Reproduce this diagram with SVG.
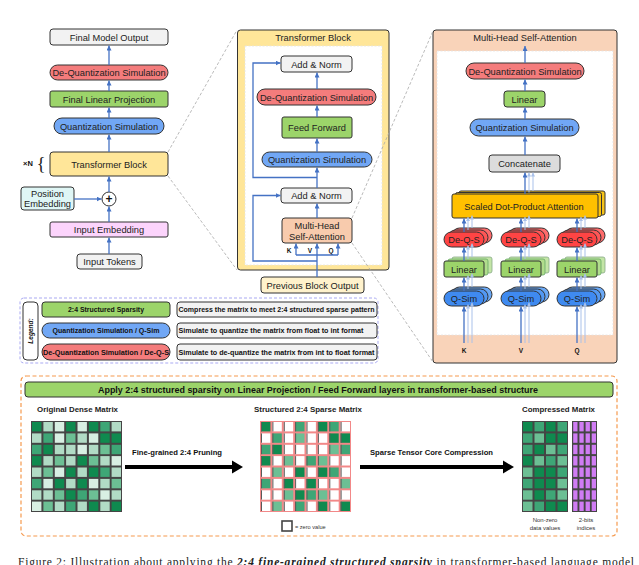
<svg xmlns="http://www.w3.org/2000/svg" width="639" height="565" viewBox="0 0 639 565">
<style>
.t{font-family:"Liberation Sans",Arial,sans-serif;font-size:9.3px;fill:#222;text-anchor:middle}
.b{font-family:"Liberation Sans",Arial,sans-serif;font-weight:bold;fill:#111;text-anchor:middle}
.box{stroke:#333;stroke-width:1}
.gray{fill:#f2f2f2}.red{fill:#f47c7c}.grn{fill:#9cd46a}.blu{fill:#71a7f5}.yel{fill:#ffe699}
.ar{stroke:#4472c4;stroke-width:1.3;fill:none;marker-end:url(#ah)}
.fa{stroke:#a9c1ea;stroke-width:1;fill:none;marker-end:url(#ahf)}
.dl{stroke:#a8a8a8;stroke-width:0.8;stroke-dasharray:3 2;fill:none}
.D{fill:#0f8a4f}.M{fill:#3ea676}.L{fill:#6cbf94}.P{fill:#b1dbc5}.W{fill:#d8efe3}.Z{fill:#fff}
</style>
<defs>
<marker id="ah" viewBox="0 0 6 6" refX="6" refY="3" markerWidth="5" markerHeight="5" orient="auto" markerUnits="userSpaceOnUse"><path d="M0,0 L6,3 L0,6 z" fill="#4472c4"/></marker>
<marker id="ahf" viewBox="0 0 6 6" refX="6" refY="3" markerWidth="4" markerHeight="4" orient="auto" markerUnits="userSpaceOnUse"><path d="M0,0 L6,3 L0,6 z" fill="#a9c1ea"/></marker>
</defs>
<rect width="639" height="565" fill="#fff"/>

<!-- zoom guide lines -->
<g id="guides">
<line class="dl" x1="168" y1="152" x2="237" y2="30"/>
<line class="dl" x1="168" y1="176" x2="237" y2="270"/>
</g>

<!-- left column -->
<g id="n-final-output"><rect class="box gray" x="50" y="29" width="118" height="16" rx="3"/><text class="t" x="109" y="40.5">Final Model Output</text></g>
<g id="n-deq-left"><rect class="box red" x="50" y="65" width="118" height="15" rx="7.5"/><text class="t" x="109" y="76">De-Quantization Simulation</text></g>
<g id="n-final-linear"><rect class="box grn" x="50" y="91" width="118" height="16" rx="2"/><text class="t" x="109" y="102.5">Final Linear Projection</text></g>
<g id="n-qsim-left"><rect class="box blu" x="54" y="118" width="110" height="16" rx="8"/><text class="t" x="109" y="129.5">Quantization Simulation</text></g>
<g id="n-transformer-block"><rect class="box yel" x="50" y="152" width="118" height="24" rx="3"/><text class="t" x="109" y="167.5">Transformer Block</text>
<text class="b" x="28" y="166" style="font-size:7.5px">×N</text><text x="41" y="170" style="font-family:'Liberation Serif',serif;font-size:19px;fill:#222;text-anchor:middle">{</text></g>
<g id="n-position"><rect class="box" x="21" y="187" width="53" height="23" rx="3" fill="#dff6f5"/><text class="t" x="47.5" y="196.5">Position</text><text class="t" x="47.5" y="207">Embedding</text></g>
<g id="n-plus"><circle cx="109" cy="199" r="7" fill="#fff" stroke="#333" stroke-width="1"/><text x="109" y="203.3" style="font-family:'Liberation Sans',sans-serif;font-size:12px;font-weight:bold;fill:#111;text-anchor:middle">+</text></g>
<g id="n-input-emb"><rect class="box" x="50" y="222" width="118" height="15" rx="2" fill="#fcd4fc"/><text class="t" x="109" y="233">Input Embedding</text></g>
<g id="n-input-tokens"><rect class="box gray" x="77" y="254" width="65" height="15" rx="3"/><text class="t" x="109.5" y="265">Input Tokens</text></g>

<g id="connectors-left">
<line class="ar" x1="109" y1="254" x2="109" y2="237.5"/>
<line class="ar" x1="109" y1="222" x2="109" y2="206.5"/>
<line class="ar" x1="74" y1="199" x2="101.5" y2="199"/>
<line class="ar" x1="109" y1="192" x2="109" y2="176.5"/>
<line class="ar" x1="109" y1="152" x2="109" y2="134.5"/>
<line class="ar" x1="109" y1="118" x2="109" y2="107.5"/>
<line class="ar" x1="109" y1="91" x2="109" y2="80.5"/>
<line class="ar" x1="109" y1="65" x2="109" y2="45.5"/>
</g>

<!-- transformer block -->
<g id="n-transformer-detail">
<rect class="box yel" x="237.5" y="30" width="151.5" height="240" rx="3"/>
<text class="t" x="313" y="41">Transformer Block</text>
<rect x="245" y="46" width="137" height="219" fill="#fff" stroke="#e3e3e3" stroke-width="0.8" stroke-dasharray="2 1.5"/>
</g>
<g id="n-addnorm-top"><rect class="box gray" x="281" y="56" width="71" height="16" rx="3"/><text class="t" x="316.5" y="67.5">Add &amp; Norm</text></g>
<g id="n-deq-tb"><rect class="box red" x="257" y="89" width="119" height="16" rx="8"/><text class="t" x="316.5" y="100.5">De-Quantization Simulation</text></g>
<g id="n-ff"><rect class="box grn" x="282" y="117" width="70" height="21" rx="2"/><text class="t" x="317" y="130.8">Feed Forward</text></g>
<g id="n-qsim-tb"><rect class="box blu" x="262" y="152" width="110" height="15" rx="7.5"/><text class="t" x="317" y="163">Quantization Simulation</text></g>
<g id="n-addnorm-2"><rect class="box gray" x="281" y="188" width="71" height="15" rx="3"/><text class="t" x="316.5" y="199">Add &amp; Norm</text></g>
<g id="n-mhsa"><rect class="box" x="282" y="218" width="70" height="25" rx="3" fill="#f8cbad"/><text class="t" x="317" y="228.5">Multi-Head</text><text class="t" x="317" y="239.5">Self-Attention</text></g>
<g id="n-prev"><rect class="box" x="261" y="277" width="103" height="16" rx="3" fill="#fff2cc"/><text class="t" x="312.5" y="288.5">Previous Block Output</text></g>
<g id="kvq-tb"><text class="b" x="289" y="252.5" style="font-size:6.5px">K</text><text class="b" x="310" y="252.5" style="font-size:6.5px">V</text><text class="b" x="331" y="252.5" style="font-size:6.5px">Q</text></g>

<g id="connectors-tb">
<line class="ar" x1="317" y1="277" x2="317" y2="243.5"/>
<path d="M296,255 H338" stroke="#4472c4" stroke-width="1.3" fill="none"/>
<line class="ar" x1="296" y1="255" x2="296" y2="243.5"/>
<line class="ar" x1="338" y1="255" x2="338" y2="243.5"/>
<path class="ar" d="M317,261 H253 V195.5 H280.5"/>
<line class="ar" x1="317" y1="218" x2="317" y2="203.5"/>
<line class="ar" x1="317" y1="188" x2="317" y2="167.5"/>
<path class="ar" d="M317,177.5 H253 V63 H280.5"/>
<line class="ar" x1="317" y1="152" x2="317" y2="138.5"/>
<line class="ar" x1="317" y1="117" x2="317" y2="105.5"/>
<line class="ar" x1="317" y1="89" x2="317" y2="72.5"/>
</g>

<!-- MHA detail -->
<g id="n-mha-detail">
<rect class="box" x="433" y="30" width="184" height="333" rx="3" fill="#f9d3b9"/>
<text class="t" x="525" y="41">Multi-Head Self-Attention</text>
<rect x="437" y="51" width="176" height="284" fill="#fff" stroke="#e3e3e3" stroke-width="0.8" stroke-dasharray="2 1.5"/>
</g>
<g id="n-deq-mha"><rect class="box red" x="466" y="63" width="118" height="16" rx="8"/><text class="t" x="525" y="74.5">De-Quantization Simulation</text></g>
<g id="n-linear-mha"><rect class="box grn" x="504" y="91" width="41" height="16" rx="3"/><text class="t" x="524.5" y="102.5">Linear</text></g>
<g id="n-qsim-mha"><rect class="box blu" x="470" y="119" width="109" height="17" rx="8.5"/><text class="t" x="524.5" y="131">Quantization Simulation</text></g>
<g id="n-concat"><rect class="box" x="489" y="155" width="71" height="17" rx="3" fill="#dcdcdc"/><text class="t" x="524.5" y="167">Concatenate</text></g>
<g id="n-sdpa">
<rect class="box" x="459" y="191" width="146" height="24" rx="2" fill="#f5c31a"/>
<rect class="box" x="455.5" y="192.5" width="146" height="24" rx="2" fill="#fcc20c"/>
<rect class="box" x="452" y="194" width="146" height="24" rx="2" fill="#ffc000"/>
<text class="t" x="524" y="209.5">Scaled Dot-Product Attention</text>
</g>

<g id="n-heads">
<g id="n-deqs-k"><rect class="box" x="452" y="228" width="40" height="15" rx="7.5" fill="#ff6b6b"/><rect class="box" x="448" y="230" width="40" height="15" rx="7.5" fill="#ff5656"/><rect class="box" x="444" y="232" width="40" height="15" rx="7.5" fill="#ff4444"/><text class="t" x="464" y="243">De-Q-S</text></g>
<g id="n-deqs-v"><rect class="box" x="509" y="228" width="40" height="15" rx="7.5" fill="#ff6b6b"/><rect class="box" x="505" y="230" width="40" height="15" rx="7.5" fill="#ff5656"/><rect class="box" x="501" y="232" width="40" height="15" rx="7.5" fill="#ff4444"/><text class="t" x="521" y="243">De-Q-S</text></g>
<g id="n-deqs-q"><rect class="box" x="565" y="228" width="40" height="15" rx="7.5" fill="#ff6b6b"/><rect class="box" x="561" y="230" width="40" height="15" rx="7.5" fill="#ff5656"/><rect class="box" x="557" y="232" width="40" height="15" rx="7.5" fill="#ff4444"/><text class="t" x="577" y="243">De-Q-S</text></g>
<g id="n-lin-k"><rect x="452" y="257" width="40" height="16" rx="2" fill="#c3e5a6" stroke="#8a8" stroke-width="0.8"/><rect x="448" y="259" width="40" height="16" rx="2" fill="#b1dd8c" stroke="#6a6" stroke-width="0.8"/><rect class="box grn" x="444" y="261" width="40" height="16" rx="2"/><text class="t" x="464" y="272.5">Linear</text></g>
<g id="n-lin-v"><rect x="509" y="257" width="40" height="16" rx="2" fill="#c3e5a6" stroke="#8a8" stroke-width="0.8"/><rect x="505" y="259" width="40" height="16" rx="2" fill="#b1dd8c" stroke="#6a6" stroke-width="0.8"/><rect class="box grn" x="501" y="261" width="40" height="16" rx="2"/><text class="t" x="521" y="272.5">Linear</text></g>
<g id="n-lin-q"><rect x="565" y="257" width="40" height="16" rx="2" fill="#c3e5a6" stroke="#8a8" stroke-width="0.8"/><rect x="561" y="259" width="40" height="16" rx="2" fill="#b1dd8c" stroke="#6a6" stroke-width="0.8"/><rect class="box grn" x="557" y="261" width="40" height="16" rx="2"/><text class="t" x="577" y="272.5">Linear</text></g>
<g id="n-qs-k"><rect class="box" x="452" y="287" width="40" height="15" rx="7.5" fill="#6aa8f5"/><rect class="box" x="448" y="289" width="40" height="15" rx="7.5" fill="#5298f2"/><rect class="box" x="444" y="291" width="40" height="15" rx="7.5" fill="#3f8af0"/><text class="t" x="464" y="302">Q-Sim</text></g>
<g id="n-qs-v"><rect class="box" x="509" y="287" width="40" height="15" rx="7.5" fill="#6aa8f5"/><rect class="box" x="505" y="289" width="40" height="15" rx="7.5" fill="#5298f2"/><rect class="box" x="501" y="291" width="40" height="15" rx="7.5" fill="#3f8af0"/><text class="t" x="521" y="302">Q-Sim</text></g>
<g id="n-qs-q"><rect class="box" x="565" y="287" width="40" height="15" rx="7.5" fill="#6aa8f5"/><rect class="box" x="561" y="289" width="40" height="15" rx="7.5" fill="#5298f2"/><rect class="box" x="557" y="291" width="40" height="15" rx="7.5" fill="#3f8af0"/><text class="t" x="577" y="302">Q-Sim</text></g>
<g id="kvq-mha"><text class="b" x="464" y="352.5" style="font-size:6.5px">K</text><text class="b" x="521" y="352.5" style="font-size:6.5px">V</text><text class="b" x="577" y="352.5" style="font-size:6.5px">Q</text></g>
</g>

<g id="connectors-mha">
<line class="ar" x1="525" y1="63" x2="525" y2="46"/>
<line class="ar" x1="525" y1="91" x2="525" y2="79.5"/>
<line class="ar" x1="525" y1="119" x2="525" y2="107.5"/>
<line class="ar" x1="525" y1="155" x2="525" y2="136.5"/>
<line class="fa" x1="533" y1="191" x2="533" y2="172.5"/>
<line class="fa" x1="529" y1="192.5" x2="529" y2="172.5"/>
<line class="ar" x1="525" y1="194" x2="525" y2="172.5"/>
<g id="col-k">
<line class="fa" x1="472" y1="343" x2="472" y2="302.5"/><line class="fa" x1="468" y1="343" x2="468" y2="304.5"/><line class="ar" x1="464" y1="343" x2="464" y2="306.5"/>
<line class="fa" x1="472" y1="287" x2="472" y2="273.5"/><line class="fa" x1="468" y1="289" x2="468" y2="275.5"/><line class="ar" x1="464" y1="291" x2="464" y2="277.5"/>
<line class="fa" x1="472" y1="257" x2="472" y2="243.5"/><line class="fa" x1="468" y1="259" x2="468" y2="245.5"/><line class="ar" x1="464" y1="261" x2="464" y2="247.5"/>
<line class="fa" x1="472" y1="228" x2="472" y2="215.5"/><line class="fa" x1="468" y1="230" x2="468" y2="217"/><line class="ar" x1="464" y1="232" x2="464" y2="218.5"/>
</g>
<g id="col-v">
<line class="fa" x1="529" y1="343" x2="529" y2="302.5"/><line class="fa" x1="525" y1="343" x2="525" y2="304.5"/><line class="ar" x1="521" y1="343" x2="521" y2="306.5"/>
<line class="fa" x1="529" y1="287" x2="529" y2="273.5"/><line class="fa" x1="525" y1="289" x2="525" y2="275.5"/><line class="ar" x1="521" y1="291" x2="521" y2="277.5"/>
<line class="fa" x1="529" y1="257" x2="529" y2="243.5"/><line class="fa" x1="525" y1="259" x2="525" y2="245.5"/><line class="ar" x1="521" y1="261" x2="521" y2="247.5"/>
<line class="fa" x1="529" y1="228" x2="529" y2="215.5"/><line class="fa" x1="525" y1="230" x2="525" y2="217"/><line class="ar" x1="521" y1="232" x2="521" y2="218.5"/>
</g>
<g id="col-q">
<line class="fa" x1="585" y1="343" x2="585" y2="302.5"/><line class="fa" x1="581" y1="343" x2="581" y2="304.5"/><line class="ar" x1="577" y1="343" x2="577" y2="306.5"/>
<line class="fa" x1="585" y1="287" x2="585" y2="273.5"/><line class="fa" x1="581" y1="289" x2="581" y2="275.5"/><line class="ar" x1="577" y1="291" x2="577" y2="277.5"/>
<line class="fa" x1="585" y1="257" x2="585" y2="243.5"/><line class="fa" x1="581" y1="259" x2="581" y2="245.5"/><line class="ar" x1="577" y1="261" x2="577" y2="247.5"/>
<line class="fa" x1="585" y1="228" x2="585" y2="215.5"/><line class="fa" x1="581" y1="230" x2="581" y2="217"/><line class="ar" x1="577" y1="232" x2="577" y2="218.5"/>
</g>
</g>

<g id="guides-right">
<line class="dl" x1="352" y1="218" x2="433" y2="31"/>
<line class="dl" x1="352" y1="243" x2="433" y2="362"/>
</g>

<!-- legend -->
<g id="legend">
<rect x="20" y="298" width="358" height="65" rx="4" fill="#fff" stroke="#a9a9f2" stroke-width="1" stroke-dasharray="3 2"/>
<rect x="23" y="302" width="15" height="58" rx="4" fill="#fff" stroke="#333" stroke-width="1"/>
<text class="b" x="31" y="333.3" transform="rotate(-90 31 331)" style="font-size:6.5px;font-style:italic">Legend:</text>
<g id="lg-sparsity"><rect class="box grn" x="42" y="302" width="128" height="15" rx="3"/><text class="b" x="106" y="312.3" style="font-size:6.6px" textLength="76" lengthAdjust="spacingAndGlyphs">2:4 Structured Sparsity</text>
<rect class="box gray" x="177" y="302" width="200" height="15" rx="3"/><text class="b" x="178.5" y="312.3" style="font-size:6.6px;text-anchor:start" textLength="196" lengthAdjust="spacingAndGlyphs">Compress the matrix to meet 2:4 structured sparse pattern</text></g>
<g id="lg-qsim"><rect class="box blu" x="42" y="323" width="128" height="15" rx="7.5"/><text class="b" x="106" y="333.3" style="font-size:6.6px" textLength="107" lengthAdjust="spacingAndGlyphs">Quantization Simulation / Q-Sim</text>
<rect class="box gray" x="177" y="323" width="200" height="15" rx="3"/><text class="b" x="178.5" y="333.3" style="font-size:6.6px;text-anchor:start" textLength="185" lengthAdjust="spacingAndGlyphs">Simulate to quantize the matrix from float to int format</text></g>
<g id="lg-deqs"><rect class="box red" x="42" y="344" width="128" height="16" rx="8"/><text class="b" x="106" y="354.8" style="font-size:6.6px" textLength="126" lengthAdjust="spacingAndGlyphs">De-Quantization Simulation / De-Q-S</text>
<rect class="box gray" x="177" y="344" width="200" height="16" rx="3"/><text class="b" x="178.5" y="354.8" style="font-size:6.6px;text-anchor:start" textLength="196" lengthAdjust="spacingAndGlyphs">Simulate to de-quantize the matrix from int to float format</text></g>
</g>

<!-- bottom panel -->
<g id="sparsity-panel">
<rect x="21" y="376" width="596" height="160" rx="5" fill="#fff" stroke="#f59a4f" stroke-width="1.2" stroke-dasharray="4 2.5"/>
<rect class="box grn" x="25" y="382" width="588" height="15" rx="3"/>
<text class="b" x="318" y="392.8" style="font-size:8.4px" textLength="440" lengthAdjust="spacingAndGlyphs">Apply 2:4 structured sparsity on Linear Projection / Feed Forward layers in transformer-based structure</text>
<text class="b" x="77.5" y="412" style="font-size:7.6px;fill:#222" textLength="81" lengthAdjust="spacingAndGlyphs">Original Dense Matrix</text>
<text class="b" x="308" y="412" style="font-size:7.6px;fill:#222" textLength="108" lengthAdjust="spacingAndGlyphs">Structured 2:4 Sparse Matrix</text>
<text class="b" x="558.5" y="412" style="font-size:7.6px;fill:#222" textLength="73" lengthAdjust="spacingAndGlyphs">Compressed Matrix</text>
<text class="b" x="177" y="455" style="font-size:7.6px;fill:#111" textLength="90" lengthAdjust="spacingAndGlyphs">Fine-grained 2:4 Pruning</text>
<text class="b" x="431.5" y="455" style="font-size:7.6px;fill:#111" textLength="123" lengthAdjust="spacingAndGlyphs">Sparse Tensor Core Compression</text>
<line x1="125" y1="467" x2="233" y2="467" stroke="#000" stroke-width="4"/>
<polygon points="232,460.5 243,467 232,473.5" fill="#000"/>
<line x1="360" y1="467" x2="504" y2="467" stroke="#000" stroke-width="4"/>
<polygon points="503,460.5 514,467 503,473.5" fill="#000"/>
<rect x="282" y="521" width="10" height="10" fill="#fff" stroke="#444" stroke-width="1.6"/>
<text x="295" y="529" style="font-family:'Liberation Sans',sans-serif;font-size:5.6px;fill:#333">= zero value</text>
<text x="545" y="522" style="font-family:'Liberation Sans',sans-serif;font-size:6px;fill:#333;text-anchor:middle">Non-zero</text>
<text x="545" y="530" style="font-family:'Liberation Sans',sans-serif;font-size:6px;fill:#333;text-anchor:middle">data values</text>
<text x="586" y="522" style="font-family:'Liberation Sans',sans-serif;font-size:6px;fill:#333;text-anchor:middle">2-bits</text>
<text x="586" y="530" style="font-family:'Liberation Sans',sans-serif;font-size:6px;fill:#333;text-anchor:middle">indices</text>
</g>

<g id="dense-matrix" transform="translate(31,421)">
<rect width="91" height="91" fill="#454545"/>
<g>
<rect class="D" x="1" y="1" width="9.4" height="9.4"/><rect class="P" x="12.4" y="1" width="9.4" height="9.4"/><rect class="W" x="23.8" y="1" width="9.4" height="9.4"/><rect class="D" x="35.1" y="1" width="9.4" height="9.4"/><rect class="W" x="46.5" y="1" width="9.4" height="9.4"/><rect class="D" x="57.9" y="1" width="9.4" height="9.4"/><rect class="M" x="69.3" y="1" width="9.4" height="9.4"/><rect class="P" x="80.6" y="1" width="9.4" height="9.4"/>
<rect class="P" x="1" y="12.4" width="9.4" height="9.4"/><rect class="M" x="12.4" y="12.4" width="9.4" height="9.4"/><rect class="W" x="23.8" y="12.4" width="9.4" height="9.4"/><rect class="L" x="35.1" y="12.4" width="9.4" height="9.4"/><rect class="P" x="46.5" y="12.4" width="9.4" height="9.4"/><rect class="W" x="57.9" y="12.4" width="9.4" height="9.4"/><rect class="D" x="69.3" y="12.4" width="9.4" height="9.4"/><rect class="D" x="80.6" y="12.4" width="9.4" height="9.4"/>
<rect class="M" x="1" y="23.8" width="9.4" height="9.4"/><rect class="D" x="12.4" y="23.8" width="9.4" height="9.4"/><rect class="P" x="23.8" y="23.8" width="9.4" height="9.4"/><rect class="P" x="35.1" y="23.8" width="9.4" height="9.4"/><rect class="W" x="46.5" y="23.8" width="9.4" height="9.4"/><rect class="P" x="57.9" y="23.8" width="9.4" height="9.4"/><rect class="L" x="69.3" y="23.8" width="9.4" height="9.4"/><rect class="M" x="80.6" y="23.8" width="9.4" height="9.4"/>
<rect class="D" x="1" y="35.1" width="9.4" height="9.4"/><rect class="P" x="12.4" y="35.1" width="9.4" height="9.4"/><rect class="L" x="23.8" y="35.1" width="9.4" height="9.4"/><rect class="P" x="35.1" y="35.1" width="9.4" height="9.4"/><rect class="D" x="46.5" y="35.1" width="9.4" height="9.4"/><rect class="L" x="57.9" y="35.1" width="9.4" height="9.4"/><rect class="P" x="69.3" y="35.1" width="9.4" height="9.4"/><rect class="W" x="80.6" y="35.1" width="9.4" height="9.4"/>
<rect class="P" x="1" y="46.5" width="9.4" height="9.4"/><rect class="L" x="12.4" y="46.5" width="9.4" height="9.4"/><rect class="W" x="23.8" y="46.5" width="9.4" height="9.4"/><rect class="D" x="35.1" y="46.5" width="9.4" height="9.4"/><rect class="P" x="46.5" y="46.5" width="9.4" height="9.4"/><rect class="D" x="57.9" y="46.5" width="9.4" height="9.4"/><rect class="M" x="69.3" y="46.5" width="9.4" height="9.4"/><rect class="P" x="80.6" y="46.5" width="9.4" height="9.4"/>
<rect class="M" x="1" y="57.9" width="9.4" height="9.4"/><rect class="W" x="12.4" y="57.9" width="9.4" height="9.4"/><rect class="D" x="23.8" y="57.9" width="9.4" height="9.4"/><rect class="P" x="35.1" y="57.9" width="9.4" height="9.4"/><rect class="D" x="46.5" y="57.9" width="9.4" height="9.4"/><rect class="W" x="57.9" y="57.9" width="9.4" height="9.4"/><rect class="P" x="69.3" y="57.9" width="9.4" height="9.4"/><rect class="L" x="80.6" y="57.9" width="9.4" height="9.4"/>
<rect class="P" x="1" y="69.3" width="9.4" height="9.4"/><rect class="P" x="12.4" y="69.3" width="9.4" height="9.4"/><rect class="L" x="23.8" y="69.3" width="9.4" height="9.4"/><rect class="D" x="35.1" y="69.3" width="9.4" height="9.4"/><rect class="M" x="46.5" y="69.3" width="9.4" height="9.4"/><rect class="L" x="57.9" y="69.3" width="9.4" height="9.4"/><rect class="W" x="69.3" y="69.3" width="9.4" height="9.4"/><rect class="P" x="80.6" y="69.3" width="9.4" height="9.4"/>
<rect class="W" x="1" y="80.6" width="9.4" height="9.4"/><rect class="L" x="12.4" y="80.6" width="9.4" height="9.4"/><rect class="P" x="23.8" y="80.6" width="9.4" height="9.4"/><rect class="M" x="35.1" y="80.6" width="9.4" height="9.4"/><rect class="P" x="46.5" y="80.6" width="9.4" height="9.4"/><rect class="D" x="57.9" y="80.6" width="9.4" height="9.4"/><rect class="P" x="69.3" y="80.6" width="9.4" height="9.4"/><rect class="D" x="80.6" y="80.6" width="9.4" height="9.4"/>
</g>
</g>

<g id="sparse-matrix" transform="translate(260,421)">
<rect width="91" height="91" fill="#f28888"/>
<rect class="D" x="1" y="1" width="9.4" height="9.4"/><rect class="Z" x="12.4" y="1" width="9.4" height="9.4"/><rect class="Z" x="23.8" y="1" width="9.4" height="9.4"/><rect class="M" x="35.1" y="1" width="9.4" height="9.4"/><rect class="Z" x="46.5" y="1" width="9.4" height="9.4"/><rect class="D" x="57.9" y="1" width="9.4" height="9.4"/><rect class="M" x="69.3" y="1" width="9.4" height="9.4"/><rect class="Z" x="80.6" y="1" width="9.4" height="9.4"/>
<rect class="Z" x="1" y="12.4" width="9.4" height="9.4"/><rect class="M" x="12.4" y="12.4" width="9.4" height="9.4"/><rect class="Z" x="23.8" y="12.4" width="9.4" height="9.4"/><rect class="L" x="35.1" y="12.4" width="9.4" height="9.4"/><rect class="Z" x="46.5" y="12.4" width="9.4" height="9.4"/><rect class="Z" x="57.9" y="12.4" width="9.4" height="9.4"/><rect class="D" x="69.3" y="12.4" width="9.4" height="9.4"/><rect class="D" x="80.6" y="12.4" width="9.4" height="9.4"/>
<rect class="M" x="1" y="23.8" width="9.4" height="9.4"/><rect class="D" x="12.4" y="23.8" width="9.4" height="9.4"/><rect class="Z" x="23.8" y="23.8" width="9.4" height="9.4"/><rect class="Z" x="35.1" y="23.8" width="9.4" height="9.4"/><rect class="Z" x="46.5" y="23.8" width="9.4" height="9.4"/><rect class="Z" x="57.9" y="23.8" width="9.4" height="9.4"/><rect class="L" x="69.3" y="23.8" width="9.4" height="9.4"/><rect class="M" x="80.6" y="23.8" width="9.4" height="9.4"/>
<rect class="D" x="1" y="35.1" width="9.4" height="9.4"/><rect class="Z" x="12.4" y="35.1" width="9.4" height="9.4"/><rect class="L" x="23.8" y="35.1" width="9.4" height="9.4"/><rect class="Z" x="35.1" y="35.1" width="9.4" height="9.4"/><rect class="M" x="46.5" y="35.1" width="9.4" height="9.4"/><rect class="L" x="57.9" y="35.1" width="9.4" height="9.4"/><rect class="Z" x="69.3" y="35.1" width="9.4" height="9.4"/><rect class="Z" x="80.6" y="35.1" width="9.4" height="9.4"/>
<rect class="Z" x="1" y="46.5" width="9.4" height="9.4"/><rect class="L" x="12.4" y="46.5" width="9.4" height="9.4"/><rect class="Z" x="23.8" y="46.5" width="9.4" height="9.4"/><rect class="D" x="35.1" y="46.5" width="9.4" height="9.4"/><rect class="Z" x="46.5" y="46.5" width="9.4" height="9.4"/><rect class="D" x="57.9" y="46.5" width="9.4" height="9.4"/><rect class="M" x="69.3" y="46.5" width="9.4" height="9.4"/><rect class="Z" x="80.6" y="46.5" width="9.4" height="9.4"/>
<rect class="M" x="1" y="57.9" width="9.4" height="9.4"/><rect class="Z" x="12.4" y="57.9" width="9.4" height="9.4"/><rect class="D" x="23.8" y="57.9" width="9.4" height="9.4"/><rect class="Z" x="35.1" y="57.9" width="9.4" height="9.4"/><rect class="D" x="46.5" y="57.9" width="9.4" height="9.4"/><rect class="Z" x="57.9" y="57.9" width="9.4" height="9.4"/><rect class="Z" x="69.3" y="57.9" width="9.4" height="9.4"/><rect class="L" x="80.6" y="57.9" width="9.4" height="9.4"/>
<rect class="Z" x="1" y="69.3" width="9.4" height="9.4"/><rect class="Z" x="12.4" y="69.3" width="9.4" height="9.4"/><rect class="L" x="23.8" y="69.3" width="9.4" height="9.4"/><rect class="D" x="35.1" y="69.3" width="9.4" height="9.4"/><rect class="M" x="46.5" y="69.3" width="9.4" height="9.4"/><rect class="L" x="57.9" y="69.3" width="9.4" height="9.4"/><rect class="Z" x="69.3" y="69.3" width="9.4" height="9.4"/><rect class="Z" x="80.6" y="69.3" width="9.4" height="9.4"/>
<rect class="Z" x="1" y="80.6" width="9.4" height="9.4"/><rect class="L" x="12.4" y="80.6" width="9.4" height="9.4"/><rect class="Z" x="23.8" y="80.6" width="9.4" height="9.4"/><rect class="M" x="35.1" y="80.6" width="9.4" height="9.4"/><rect class="Z" x="46.5" y="80.6" width="9.4" height="9.4"/><rect class="D" x="57.9" y="80.6" width="9.4" height="9.4"/><rect class="Z" x="69.3" y="80.6" width="9.4" height="9.4"/><rect class="D" x="80.6" y="80.6" width="9.4" height="9.4"/>
<g stroke="#5a5a5a" stroke-width="1" stroke-dasharray="9.4 1.975">
<line x1="1.5" y1="1" x2="1.5" y2="91"/><line x1="12.9" y1="1" x2="12.9" y2="91"/><line x1="24.3" y1="1" x2="24.3" y2="91"/><line x1="35.6" y1="1" x2="35.6" y2="91"/><line x1="47" y1="1" x2="47" y2="91"/><line x1="58.4" y1="1" x2="58.4" y2="91"/><line x1="69.8" y1="1" x2="69.8" y2="91"/><line x1="81.1" y1="1" x2="81.1" y2="91"/>
</g>
</g>

<g id="compressed-matrix" transform="translate(522,421)">
<rect width="46" height="91" fill="#454545"/>
<rect class="D" x="1" y="1" width="9.5" height="9.4"/><rect class="M" x="12.5" y="1" width="9.5" height="9.4"/><rect class="D" x="24" y="1" width="9.5" height="9.4"/><rect class="M" x="35.5" y="1" width="9.5" height="9.4"/>
<rect class="M" x="1" y="12.4" width="9.5" height="9.4"/><rect class="L" x="12.5" y="12.4" width="9.5" height="9.4"/><rect class="D" x="24" y="12.4" width="9.5" height="9.4"/><rect class="D" x="35.5" y="12.4" width="9.5" height="9.4"/>
<rect class="M" x="1" y="23.8" width="9.5" height="9.4"/><rect class="D" x="12.5" y="23.8" width="9.5" height="9.4"/><rect class="L" x="24" y="23.8" width="9.5" height="9.4"/><rect class="M" x="35.5" y="23.8" width="9.5" height="9.4"/>
<rect class="D" x="1" y="35.1" width="9.5" height="9.4"/><rect class="L" x="12.5" y="35.1" width="9.5" height="9.4"/><rect class="M" x="24" y="35.1" width="9.5" height="9.4"/><rect class="L" x="35.5" y="35.1" width="9.5" height="9.4"/>
<rect class="L" x="1" y="46.5" width="9.5" height="9.4"/><rect class="D" x="12.5" y="46.5" width="9.5" height="9.4"/><rect class="D" x="24" y="46.5" width="9.5" height="9.4"/><rect class="M" x="35.5" y="46.5" width="9.5" height="9.4"/>
<rect class="M" x="1" y="57.9" width="9.5" height="9.4"/><rect class="D" x="12.5" y="57.9" width="9.5" height="9.4"/><rect class="D" x="24" y="57.9" width="9.5" height="9.4"/><rect class="L" x="35.5" y="57.9" width="9.5" height="9.4"/>
<rect class="L" x="1" y="69.3" width="9.5" height="9.4"/><rect class="D" x="12.5" y="69.3" width="9.5" height="9.4"/><rect class="M" x="24" y="69.3" width="9.5" height="9.4"/><rect class="L" x="35.5" y="69.3" width="9.5" height="9.4"/>
<rect class="L" x="1" y="80.6" width="9.5" height="9.4"/><rect class="M" x="12.5" y="80.6" width="9.5" height="9.4"/><rect class="D" x="24" y="80.6" width="9.5" height="9.4"/><rect class="D" x="35.5" y="80.6" width="9.5" height="9.4"/>
</g>

<g id="index-matrix" transform="translate(572,421)">
<rect width="25" height="91" fill="#454545"/>
<g fill="#d07cf4"><rect x="1.2" y="1" width="4.3" height="89"/><rect x="7.4" y="1" width="4.3" height="89"/><rect x="13.6" y="1" width="4.3" height="89"/><rect x="19.7" y="1" width="4.3" height="89"/></g>
<g stroke="#454545" stroke-width="2"><line x1="0" y1="11.4" x2="25" y2="11.4"/><line x1="0" y1="22.8" x2="25" y2="22.8"/><line x1="0" y1="34.1" x2="25" y2="34.1"/><line x1="0" y1="45.5" x2="25" y2="45.5"/><line x1="0" y1="56.9" x2="25" y2="56.9"/><line x1="0" y1="68.3" x2="25" y2="68.3"/><line x1="0" y1="79.6" x2="25" y2="79.6"/></g>
</g>

<text id="caption" x="18" y="565.5" textLength="616" lengthAdjust="spacing" style="font-family:'Liberation Serif','Times New Roman',serif;font-size:11.5px;fill:#222">Figure 2: Illustration about applying the <tspan font-weight="bold" font-style="italic">2:4 fine-grained structured sparsity</tspan> in transformer-based language model</text>
</svg>
